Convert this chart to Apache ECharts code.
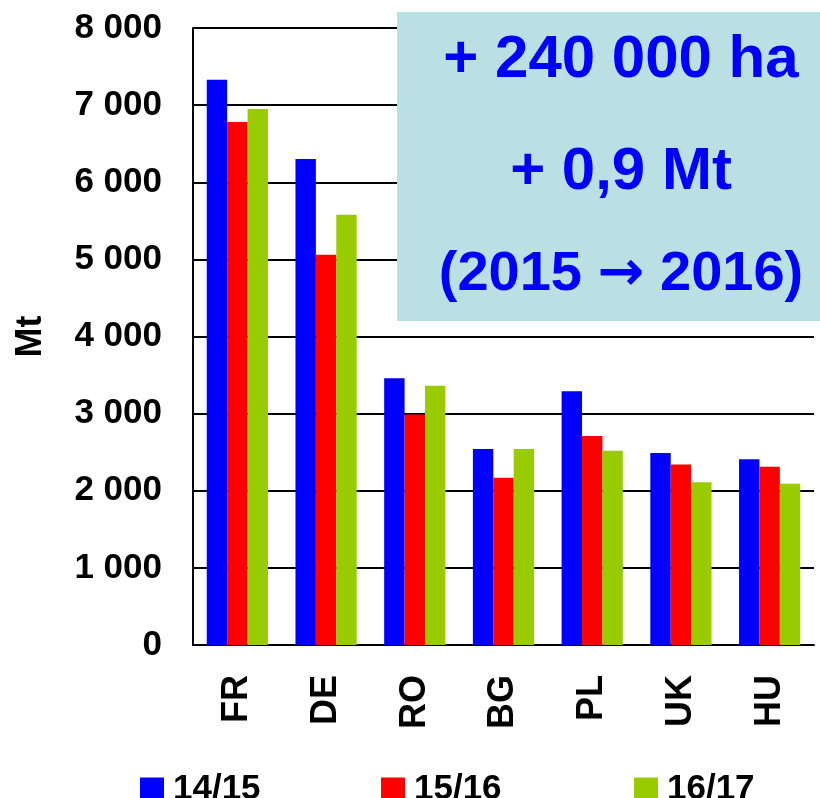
<!DOCTYPE html>
<html><head><meta charset="utf-8">
<script src="https://cdn.jsdelivr.net/npm/echarts@6/dist/echarts.min.js"></script>
<style>html,body{margin:0;padding:0;background:#fff}#c{width:820px;height:798px}</style>
</head><body><div id="c"></div>
<script>
const categories = ['FR','DE','RO','BG','PL','UK','HU'];
const seriesNames = ['14/15','15/16','16/17'];
const s1415 = [7330, 6300, 3460, 2540, 3290, 2490, 2410];
const s1516 = [6780, 5060, 2990, 2170, 2710, 2340, 2310];
const s1617 = [6950, 5580, 3360, 2540, 2520, 2110, 2090];
const boxLine1 = '+ 240 000 ha';
const boxLine2 = '+ 0,9 Mt';
const boxLine3 = ['(2015', '→', '2016)'];
const colors = ['#0000ff', '#ff0000', '#99cc00'];

const font = 'Liberation Sans, Arial, sans-serif';
const chart = echarts.init(document.getElementById('c'), null, {renderer:'canvas'});
function fmt(v){ return String(v).replace(/\B(?=(\d{3})+(?!\d))/g, ' '); }
const legendLefts = [140, 381, 634];
chart.setOption({
  animation:false,
  backgroundColor:'#fff',
  grid:{left:193, right:6, top:28, bottom:153, containLabel:false},
  legend: seriesNames.map((n,i)=>({
    data:[n], left:legendLefts[i], top:772, itemWidth:24, itemHeight:24, itemGap:0,
    icon:'rect', textStyle:{fontFamily:font, fontWeight:'bold', fontSize:35, color:'#000', padding:[0,0,0,4]},
    padding:0
  })),
  xAxis:{type:'category', data:categories,
    axisLine:{lineStyle:{color:'#000', width:2}}, axisTick:{show:false},
    axisLabel:{rotate:90, margin:30, fontFamily:font, fontWeight:'bold', fontSize:36, color:'#000'}},
  yAxis:{type:'value', min:0, max:8000, interval:1000,
    name:'Mt', nameLocation:'middle', nameGap:144, nameRotate:90,
    nameTextStyle:{fontFamily:font, fontWeight:'bold', fontSize:36, color:'#000'},
    axisLine:{show:true, lineStyle:{color:'#000', width:2}}, axisTick:{show:false},
    splitLine:{lineStyle:{color:'#000', width:2}},
    axisLabel:{margin:31, formatter:fmt, fontFamily:font, fontWeight:'bold', fontSize:35, color:'#000'}},
  series:[s1415, s1516, s1617].map((d,i)=>({
    type:'bar', name:seriesNames[i], data:d, itemStyle:{color:colors[i]},
    barGap:'0%', barCategoryGap:'31%'
  })),
  graphic:[
    {type:'rect', left:397, top:12, z:100, shape:{width:423, height:309}, style:{fill:'#b9e0e3'}},
    {type:'text', z:101, x:621, y:60, style:{text:boxLine1, fill:'#0000ff', font:'bold 60px '+font, textAlign:'center', textVerticalAlign:'middle'}},
    {type:'text', z:101, x:621, y:172, style:{text:boxLine2, fill:'#0000ff', font:'bold 60px '+font, textAlign:'center', textVerticalAlign:'middle'}},
    {type:'text', z:101, x:621, y:275, style:{
      text:boxLine3[0] + ' {a|' + boxLine3[1] + '} ' + boxLine3[2],
      fill:'#0000ff', font:'bold 56px '+font, align:'center', verticalAlign:'middle',
      rich:{a:{fontFamily:'DejaVu Sans', fontWeight:'bold', fontSize:56, fill:'#0000ff'}}
    }}
  ]
});
</script></body></html>
